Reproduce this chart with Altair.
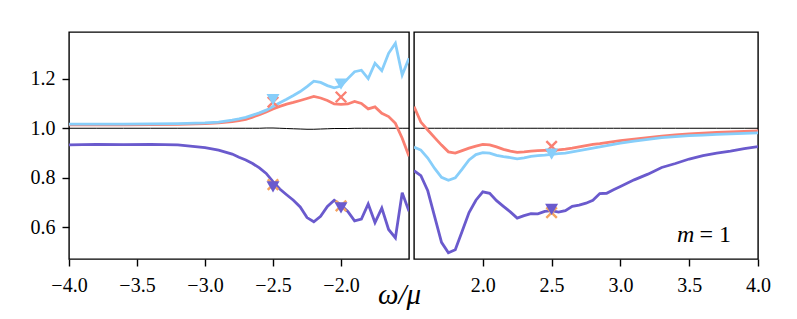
import altair as alt
import pandas as pd

# ---------------- data ----------------
left_x = [-4.0, -3.8, -3.6, -3.4, -3.2, -3.0, -2.9, -2.8, -2.75, -2.7, -2.65, -2.6,
          -2.55, -2.5, -2.45, -2.4, -2.35, -2.3, -2.25, -2.2, -2.15, -2.1, -2.05,
          -2.0, -1.95, -1.9, -1.85, -1.8, -1.75, -1.7, -1.65, -1.6, -1.55, -1.5]
left_blue = [1.017, 1.017, 1.017, 1.018, 1.019, 1.022, 1.025, 1.033, 1.038, 1.044,
             1.053, 1.062, 1.073, 1.088, 1.103, 1.117, 1.132, 1.148, 1.168, 1.19,
             1.185, 1.172, 1.163, 1.17, 1.2, 1.228, 1.234, 1.2, 1.262, 1.232, 1.302,
             1.343, 1.215, 1.282]
left_salmon = [1.014, 1.014, 1.014, 1.015, 1.016, 1.019, 1.022, 1.027, 1.031, 1.036,
               1.045, 1.055, 1.066, 1.078, 1.088, 1.097, 1.104, 1.112, 1.12, 1.128,
               1.122, 1.112, 1.098, 1.096, 1.098, 1.108, 1.1, 1.078, 1.086, 1.06,
               1.047, 1.02, 0.96, 0.887]
left_purple = [0.933, 0.935, 0.934, 0.935, 0.933, 0.922, 0.912, 0.896, 0.883, 0.872,
               0.858, 0.84, 0.818, 0.785, 0.755, 0.732, 0.71, 0.683, 0.64, 0.623,
               0.645, 0.685, 0.71, 0.69, 0.665, 0.627, 0.634, 0.695, 0.62, 0.678,
               0.592, 0.558, 0.74, 0.665]
left_black = [1.0, 1.0, 1.0, 1.0, 1.0, 1.0, 1.0, 1.0, 1.0, 1.0, 1.0, 1.0, 1.001,
              1.001, 1.0, 0.999, 0.998, 0.997, 0.996, 0.996, 0.997, 0.998, 0.999,
              0.999, 0.999, 1.0, 1.0, 1.0, 1.0, 1.0, 1.0, 1.0, 1.0, 1.0]

right_x = [1.5, 1.55, 1.6, 1.65, 1.7, 1.75, 1.8, 1.85, 1.9, 1.95, 2.0, 2.05, 2.1,
           2.15, 2.2, 2.25, 2.3, 2.35, 2.4, 2.45, 2.5, 2.55, 2.6, 2.65, 2.7, 2.75,
           2.8, 2.85, 2.9, 2.95, 3.0, 3.1, 3.2, 3.3, 3.4, 3.5, 3.6, 3.7, 3.8, 3.9, 4.0]
right_salmon = [1.087, 1.025, 0.993, 0.962, 0.932, 0.905, 0.9, 0.91, 0.92, 0.928,
                0.935, 0.933, 0.925, 0.915, 0.908, 0.903, 0.905, 0.908, 0.91, 0.911,
                0.912, 0.913, 0.916, 0.92, 0.925, 0.93, 0.935, 0.938, 0.942, 0.946,
                0.95, 0.956, 0.962, 0.968, 0.973, 0.977, 0.98, 0.983, 0.985, 0.987,
                0.989]
right_blue = [0.924, 0.912, 0.88, 0.838, 0.802, 0.79, 0.8, 0.835, 0.872, 0.894, 0.902,
              0.9, 0.891, 0.886, 0.882, 0.877, 0.881, 0.887, 0.89, 0.892, 0.895,
              0.898, 0.9, 0.905, 0.91, 0.915, 0.92, 0.925, 0.93, 0.935, 0.94, 0.948,
              0.955, 0.962, 0.966, 0.97, 0.972, 0.975, 0.977, 0.979, 0.981]
right_purple = [0.829, 0.809, 0.748, 0.644, 0.54, 0.498, 0.51, 0.585, 0.66, 0.71,
                0.744, 0.738, 0.708, 0.685, 0.663, 0.638, 0.648, 0.656, 0.655, 0.665,
                0.668, 0.662, 0.668, 0.685, 0.69, 0.698, 0.71, 0.737, 0.738, 0.752,
                0.765, 0.792, 0.815, 0.842, 0.858, 0.876, 0.89, 0.9, 0.908, 0.918,
                0.926]
right_black = [1.0] * len(right_x)

# markers: (x, y, series)
left_cross_x = [-2.5, -2.0, -2.5, -2.0]
left_cross_y = [1.105, 1.126, 0.773, 0.687]
left_cross_s = ["A", "A", "D", "D"]
left_tri_x = [-2.5, -2.0, -2.5, -2.0]
left_tri_y = [1.115, 1.178, 0.764, 0.679]
left_tri_s = ["B", "B", "C", "C"]
right_cross_x = [2.5, 2.5]
right_cross_y = [0.927, 0.66]
right_cross_s = ["A", "D"]
right_tri_x = [2.5, 2.5]
right_tri_y = [0.896, 0.673]
right_tri_s = ["B", "C"]

y_ticks = [0.6, 0.8, 1.0, 1.2]
left_ticks = [-4.0, -3.5, -3.0, -2.5, -2.0]
right_ticks = [2.0, 2.5, 3.0, 3.5, 4.0]

# annotation in the right panel
note_italic = "m"
note_plain = "= 1"

# ---------------- styling ----------------
SALMON = "#FA8072"
BLUE = "#87CEFA"
PURPLE = "#6A5ACD"
ORANGE = "#F4A460"
FONT = "Liberation Serif"
series_scale = alt.Scale(domain=["A", "B", "C", "D"], range=[SALMON, BLUE, PURPLE, ORANGE])
y_scale = alt.Scale(domain=[0.473, 1.388], nice=False, zero=False)
XSHAPE = "M-1,-1L1,1M-1,1L1,-1"


def panel(xs, salmon, blue, purple, black, cx, cy, cs, tx, ty, ts, xdomain, xticks,
          show_y, width, xtitle=None, note=False):
    xaxis_kwargs = dict(values=xticks, format=".1f", grid=False, domain=False,
                        tickSize=7, tickWidth=1.4, tickColor="black",
                        labelFont=FONT, labelFontSize=20, labelColor="black",
                        labelPadding=9, labelFlush=False)
    if xtitle:
        xaxis_kwargs.update(title=xtitle, titleFont=FONT, titleFontSize=29,
                            titleFontStyle="italic", titleFontWeight="normal",
                            titleColor="black", titleX=330, titleY=44,
                            titleAlign="center", titleBaseline="alphabetic")
    else:
        xaxis_kwargs.update(title=None)
    x_enc = alt.X("x:Q", scale=alt.Scale(domain=xdomain, nice=False, zero=False),
                  axis=alt.Axis(**xaxis_kwargs))
    if show_y:
        y_axis = alt.Axis(values=y_ticks, format=".1f", grid=False, domain=False,
                          tickSize=7, tickWidth=1.4, tickColor="black", title=None,
                          labelFont=FONT, labelFontSize=20, labelColor="black",
                          labelPadding=7, labelFlush=False)
    else:
        y_axis = None
    y_enc = alt.Y("y:Q", scale=y_scale, axis=y_axis)

    def line(ys, color, w):
        df = pd.DataFrame({"x": xs, "y": ys})
        return alt.Chart(df).mark_line(color=color, strokeWidth=w, clip=True).encode(
            x=x_enc, y=y_enc)

    cdf = pd.DataFrame({"x": cx, "y": cy, "s": cs})
    tdf = pd.DataFrame({"x": tx, "y": ty, "s": ts})
    crosses = alt.Chart(cdf).mark_point(shape=XSHAPE, filled=False, size=110,
                                        strokeWidth=2.4, opacity=1).encode(
        x=x_enc, y=y_enc, color=alt.Color("s:N", scale=series_scale, legend=None))
    tris = alt.Chart(tdf).mark_point(shape="triangle-down", filled=True, size=170,
                                     opacity=1).encode(
        x=x_enc, y=y_enc, color=alt.Color("s:N", scale=series_scale, legend=None))

    layers = [line(black, "black", 1.0), line(salmon, SALMON, 2.8),
              line(blue, BLUE, 2.8), line(purple, PURPLE, 2.8), crosses, tris]
    if note:
        m_df = pd.DataFrame({"x": [3.538], "y": [0.543], "t": [note_italic]})
        e_df = pd.DataFrame({"x": [3.574], "y": [0.543], "t": [note_plain]})
        layers.append(alt.Chart(m_df).mark_text(
            font=FONT, fontSize=24, fontStyle="italic", align="right",
            baseline="alphabetic", color="black").encode(x=x_enc, y=y_enc, text="t:N"))
        layers.append(alt.Chart(e_df).mark_text(
            font=FONT, fontSize=24, align="left",
            baseline="alphabetic", color="black").encode(x=x_enc, y=y_enc, text="t:N"))
    return alt.layer(*layers).properties(width=width, height=227)


left = panel(left_x, left_salmon, left_blue, left_purple, left_black,
             left_cross_x, left_cross_y, left_cross_s, left_tri_x, left_tri_y, left_tri_s,
             [-4.0, -1.5], left_ticks, True, 340, xtitle="ω/μ")

right = panel(right_x, right_salmon, right_blue, right_purple, right_black,
              right_cross_x, right_cross_y, right_cross_s, right_tri_x, right_tri_y,
              right_tri_s, [1.5, 4.0], right_ticks, False, 344, note=True)

chart = alt.hconcat(left, right, spacing=5, bounds="flush").properties(
    padding={"left": 21, "top": 23, "right": 5, "bottom": 0}
).configure(background="white", font=FONT).configure_view(stroke="black", strokeWidth=1.4)

chart.save("out.html", embed_options={"renderer": "svg", "actions": False})
